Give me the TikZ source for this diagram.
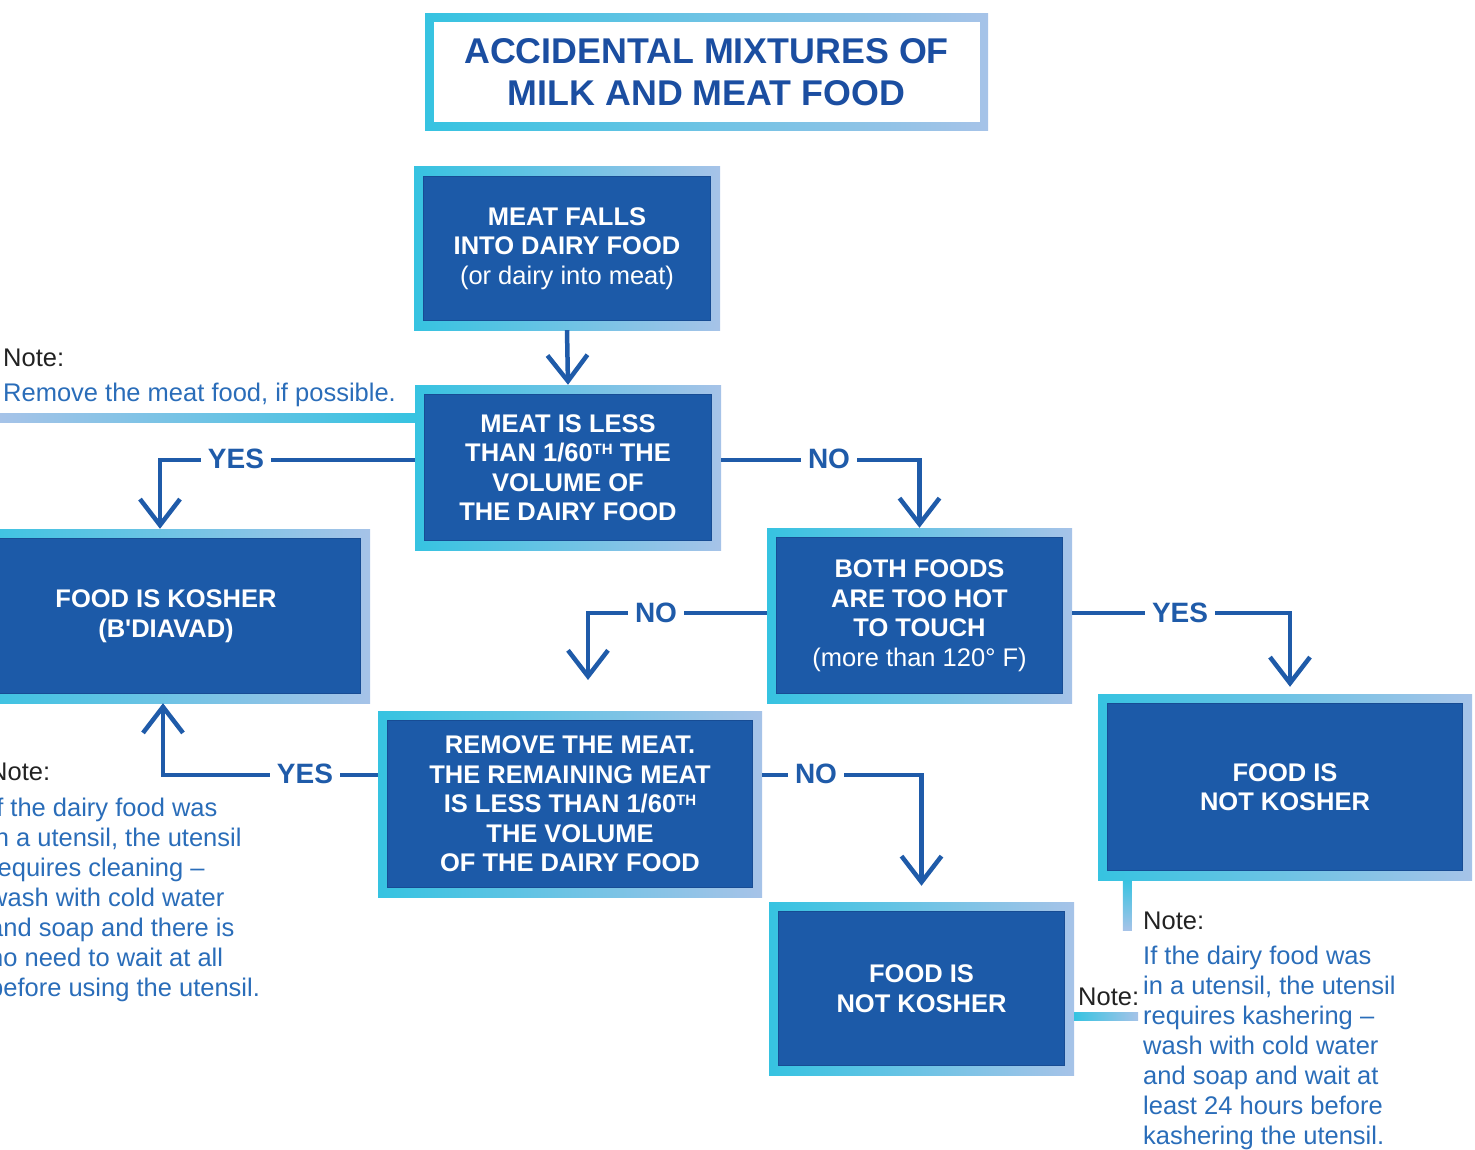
\documentclass[tikz,border=0pt]{standalone}
\usepackage{fontspec}
\setmainfont{Liberation Sans}
\usetikzlibrary{arrows.meta}
\definecolor{boxblue}{HTML}{1C5AA8}
\definecolor{boxedge}{HTML}{174C94}
\definecolor{lineblue}{HTML}{1F5BA9}
\definecolor{titleblue}{HTML}{1B4EA1}
\definecolor{bordercyan}{HTML}{36C3E1}
\definecolor{borderlight}{HTML}{A6C3E8}
\definecolor{noteblue}{HTML}{2A6DB9}
\definecolor{notegrey}{HTML}{222222}
\providecommand{\thsup}{\raisebox{7pt}{\fontsize{15}{15}\selectfont TH}}

\begin{document}
\begin{tikzpicture}[x=1pt,y=-1pt,
    box/.style={left color=bordercyan, right color=borderlight, text=white,
        font=\boxfont, align=center, inner sep=0pt,
        path picture={\fill[boxblue, draw=boxedge, line width=1.5pt]
            ([shift={(\bw pt,-\bw pt)}]path picture bounding box.north west) rectangle
            ([shift={(-\bw pt,\bw pt)}]path picture bounding box.south east);}},
    titlebox/.style={left color=bordercyan, right color=borderlight, text=titleblue,
        font=\titlefont, align=center, inner sep=0pt,
        path picture={\fill[white]
            ([shift={(\tw pt,-\tw pt)}]path picture bounding box.north west) rectangle
            ([shift={(-\tw pt,\tw pt)}]path picture bounding box.south east);}},
    flow/.style={draw=lineblue, line width=4.5pt, -{Straight Barb[length=26pt,width=40pt]}},
    lab/.style={fill=white, text=lineblue, font=\labfont, inner xsep=7pt, inner ysep=2pt},
    note/.style={anchor=north west, inner sep=0pt, align=left, font=\notefont, text=noteblue}]
    \pgfmathsetmacro{\bw}{9.5}
    \pgfmathsetmacro{\tw}{8.5}
    \providecommand{\boxfont}{\fontsize{25.5}{29.5}\selectfont\bfseries}
    \providecommand{\labfont}{\fontsize{28}{30}\selectfont\bfseries}
    \providecommand{\notefont}{\fontsize{25.5}{30}\selectfont}
    \providecommand{\titlefont}{\fontsize{35.8}{42}\selectfont\bfseries}
    \useasboundingbox (0,0) rectangle (1475,1150);
    \clip (0,0) rectangle (1475,1150);
    % boxes
    \node[titlebox, minimum width=563pt, minimum height=117pt] (title) at (706.5,72.5) {ACCIDENTAL MIXTURES OF\\MILK AND MEAT FOOD};
    \node[box, minimum width=306pt, minimum height=163pt] (fall) at (567,248.5) {MEAT FALLS\\INTO DAIRY FOOD\\\mdseries(or dairy into meat)};
    \node[box, minimum width=306pt, minimum height=165pt] (less) at (568,467.5) {MEAT IS LESS\\THAN 1/60\thsup{} THE\\VOLUME OF\\THE DAIRY FOOD};
    \node[box, minimum width=408pt, minimum height=174pt] (kosher) at (166,616) {FOOD IS KOSHER\\(B\textquotesingle DIAVAD)};
    \node[box, minimum width=305pt, minimum height=175pt] (hot) at (919.5,615.5) {BOTH FOODS\\ARE TOO HOT\\TO TOUCH\\\mdseries(more than 120° F)};
    \node[box, minimum width=384pt, minimum height=186pt] (remove) at (570,804) {REMOVE THE MEAT.\\THE REMAINING MEAT\\IS LESS THAN 1/60\thsup\\THE VOLUME\\OF THE DAIRY FOOD};
    \node[box, minimum width=374pt, minimum height=186pt] (notk1) at (1285,787) {FOOD IS\\NOT KOSHER};
    \node[box, minimum width=305pt, minimum height=173pt] (notk2) at (921.5,988.5) {FOOD IS\\NOT KOSHER};
    % note bars
    \shade[left color=borderlight, right color=bordercyan] (0,413) rectangle ([yshift=45.5pt]less.west);
    \shade[top color=bordercyan, bottom color=borderlight] (notk1.south west) ++(25,0) rectangle ++(9,50);
    \shade[left color=bordercyan, right color=borderlight] (notk2.east) ++(0,23.5) rectangle ++(64,8);
    % connectors
    \coordinate (noend) at (588,680);
    \draw[flow] (fall.south) -- (less.north);
    \draw[flow] ([yshift=7.5pt]less.west) -| ([xshift=-6pt]kosher.north);
    \draw[flow] ([yshift=7.5pt]less.east) -| (hot.north);
    \draw[flow] ([yshift=2.5pt]hot.west) -| (noend);
    \draw[flow, shorten >=7pt] ([yshift=2.5pt]hot.east) -| ([xshift=5pt]notk1.north);
    \draw[flow] ([yshift=29pt]remove.west) -| ([xshift=-3pt]kosher.south);
    \draw[flow, shorten >=16pt] ([yshift=29pt]remove.east) -| (notk2.north);
    \node[lab] (yesa) at (236,459) {YES};
    \node[lab] (noa) at (829,459) {NO};
    \node[lab] (nob) at (656,613) {NO};
    \node[lab] (yesb) at (1180,613) {YES};
    \node[lab] (yesc) at (305,774) {YES};
    \node[lab] (noc) at (816,774) {NO};
    % notes
    \node[note] (topnote) at (3,349) {\textcolor{notegrey}{Note:}\\[5pt]Remove the meat food, if possible.};
    \node[note] (leftnote) at (-11,763) {\textcolor{notegrey}{Note:}\\[6pt]If the dairy food was\\in a utensil, the utensil\\requires cleaning –\\wash with cold water\\and soap and there is\\no need to wait at all\\before using the utensil.};
    \node[note] (rightnote) at (1143,912) {\textcolor{notegrey}{Note:}\\[5pt]If the dairy food was\\in a utensil, the utensil\\requires kashering –\\wash with cold water\\and soap and wait at\\least 24 hours before\\kashering the utensil.};
    \node[note, anchor=west, text=notegrey] (bnote) at (1078,997) {Note:};
\end{tikzpicture}
\end{document}
